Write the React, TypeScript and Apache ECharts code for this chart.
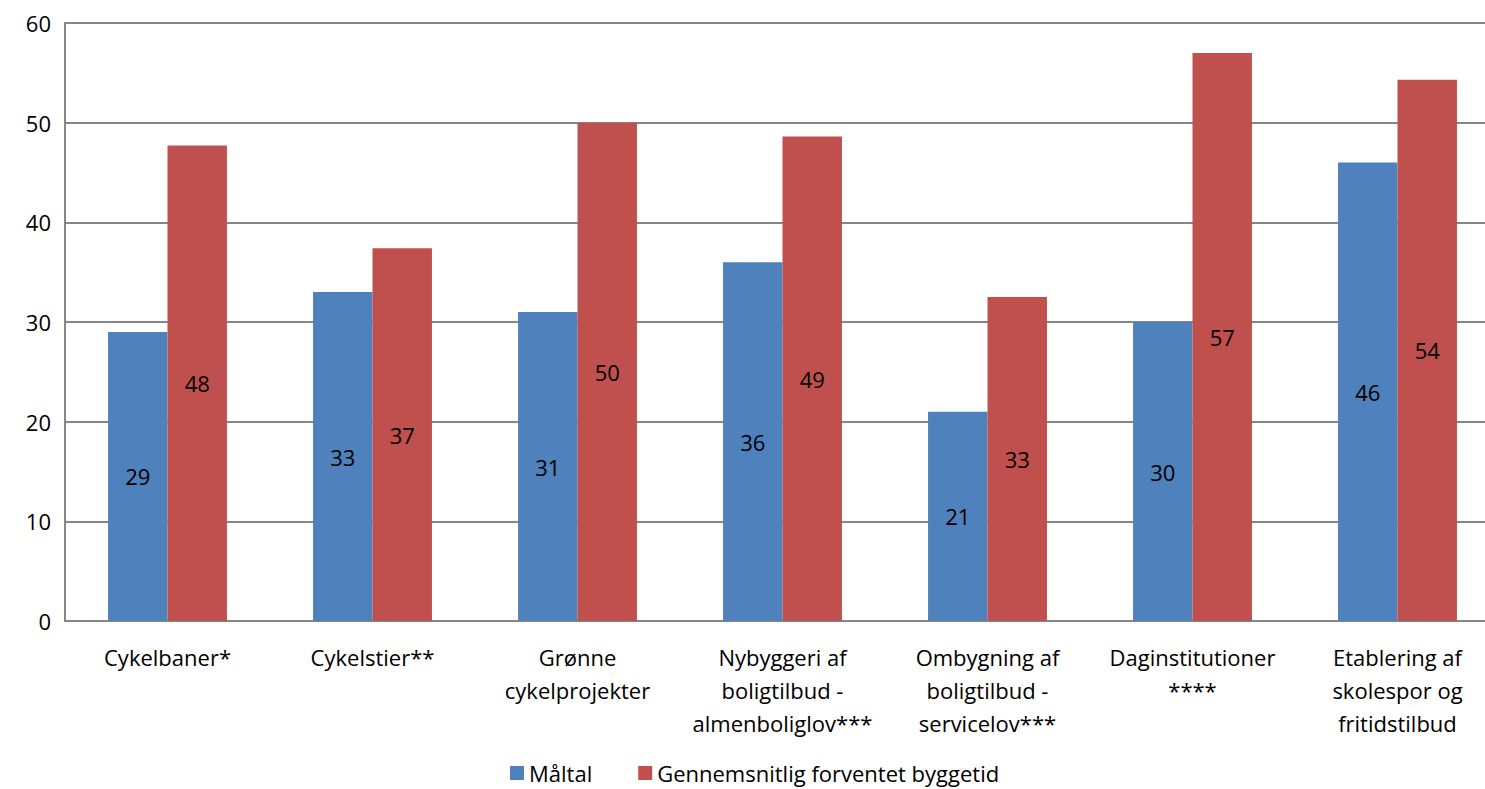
import React, { useEffect, useRef } from "react";
import * as echarts from "echarts";

const categories = [
  "Cykelbaner*",
  "Cykelstier**",
  "Grønne\ncykelprojekter",
  "Nybyggeri af\nboligtilbud -\nalmenboliglov***",
  "Ombygning af\nboligtilbud -\nservicelov***",
  "Daginstitutioner\n****",
  "Etablering af\nskolespor og\nfritidstilbud",
];
const maaltal = [29, 33, 31, 36, 21, 30, 46];
const byggetid = [47.7, 37.4, 50, 48.6, 32.5, 57, 54.3];
const yTicks = { min: 0, max: 60, interval: 10 };

const FONT = "'Open Sans', 'Noto Sans', sans-serif";
const FS = 22;

export default function App() {
  const ref = useRef<HTMLDivElement>(null);
  useEffect(() => {
    document.body.style.margin = "0";
    const chart = echarts.init(ref.current!, null, { renderer: "svg" });
    const label = {
      show: true,
      position: "inside",
      color: "#000",
      fontSize: FS,
      fontFamily: FONT,
      formatter: (p: any) => String(Math.round(p.value)),
    };
    chart.setOption({
      animation: false,
      textStyle: { fontFamily: FONT },
      grid: {
        left: 65,
        right: -15,
        top: 23,
        bottom: 168,
        containLabel: false,
        outerBoundsMode: "none",
      },
      legend: {
        bottom: 0,
        left: 505,
        itemWidth: 14,
        itemHeight: 14,
        itemGap: 46,
        icon: "rect",
        textStyle: { fontSize: FS, color: "#000", fontFamily: FONT },
        data: ["Måltal", "Gennemsnitlig forventet byggetid"],
      },
      xAxis: {
        type: "category",
        data: categories,
        axisLine: { lineStyle: { color: "#868686", width: 2 } },
        axisTick: { show: false },
        axisLabel: {
          interval: 0,
          fontSize: FS,
          color: "#000",
          fontFamily: FONT,
          lineHeight: 33,
          margin: 19,
        },
      },
      yAxis: {
        type: "value",
        min: yTicks.min,
        max: yTicks.max,
        interval: yTicks.interval,
        axisLine: { show: true, lineStyle: { color: "#868686", width: 2 } },
        axisTick: { show: false },
        splitLine: { lineStyle: { color: "#868686", width: 2 } },
        axisLabel: { fontSize: FS, color: "#000", fontFamily: FONT, margin: 14 },
      },
      series: [
        {
          name: "Måltal",
          type: "bar",
          data: maaltal,
          itemStyle: { color: "#4f81bd" },
          barGap: "0%",
          barCategoryGap: "42%",
          label,
        },
        {
          name: "Gennemsnitlig forventet byggetid",
          type: "bar",
          data: byggetid,
          itemStyle: { color: "#c0504d" },
          label,
        },
      ],
    });
    return () => chart.dispose();
  }, []);
  return (
    <div
      ref={ref}
      style={{ position: "absolute", left: 0, top: 0, width: 1485, height: 789, background: "#fff" }}
    />
  );
}
